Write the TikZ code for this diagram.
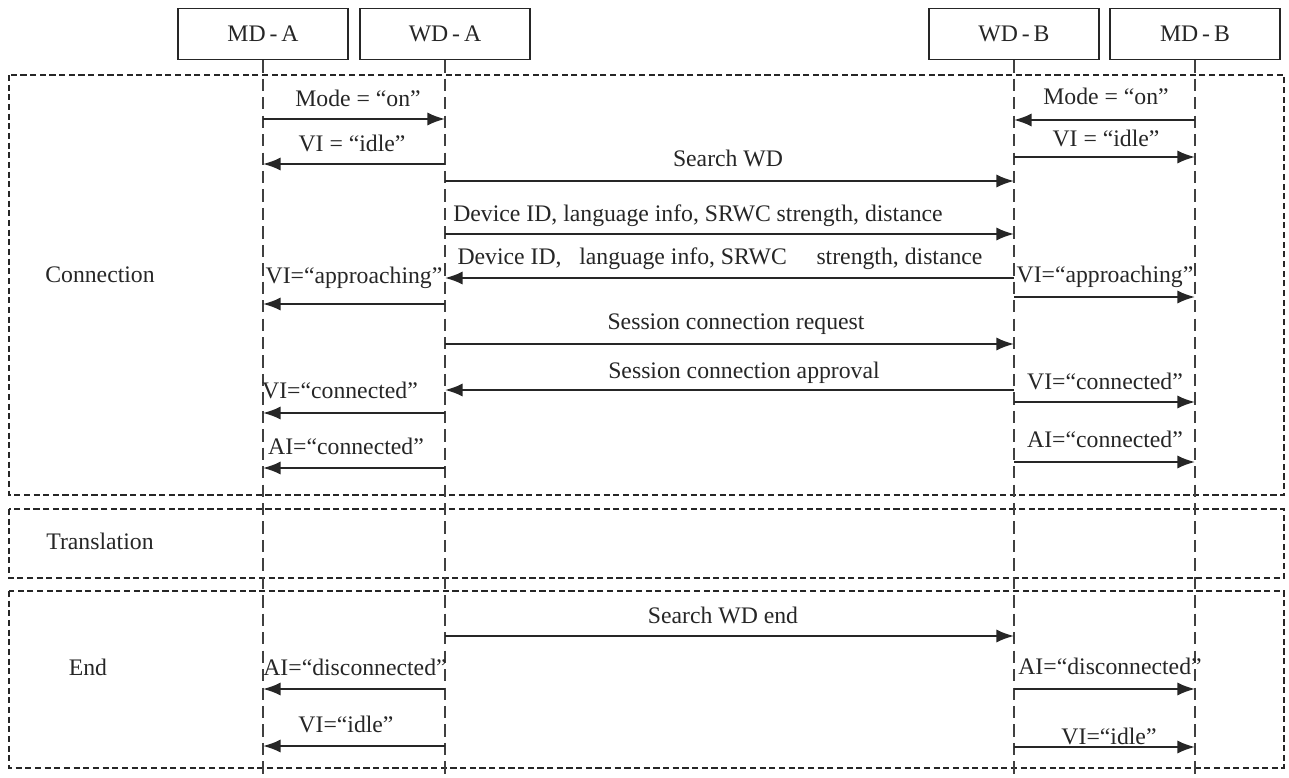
\documentclass[tikz,border=0pt]{standalone}
\usepackage{fontspec}
\setmainfont{Liberation Serif}
\usetikzlibrary{arrows.meta}
\begin{document}
\begin{tikzpicture}[x=0.02cm,y=-0.02cm,
  every node/.style={font=\fontsize{13.5}{15}\selectfont, text=black!85},
  actor/.style={draw=black!85, line width=0.9pt, minimum width=3.4cm, minimum height=1.02cm, inner sep=0pt, font=\fontsize{13.5}{15}\selectfont},
  life/.style={draw=black!75, line width=0.7pt, dash pattern=on 7pt off 3.5pt},
  frame/.style={draw=black!85, line width=0.9pt, dash pattern=on 3.5pt off 2pt},
  msg/.style={draw=black!85, line width=1.2pt, -{Latex[length=10pt,width=7.5pt]}},
  lbl/.style={inner sep=0pt, anchor=base}]
\useasboundingbox (0,0) rectangle (1289,778);
% actors
\node[actor] (mda) at (263,34) {MD\,-\,A};
\node[actor] (wda) at (445,34) {WD\,-\,A};
\node[actor] (wdb) at (1014,34) {WD\,-\,B};
\node[actor] (mdb) at (1195,34) {MD\,-\,B};
% lifeline ends
\coordinate (mdaE) at (263,778);
\coordinate (wdaE) at (445,778);
\coordinate (wdbE) at (1014,778);
\coordinate (mdbE) at (1195,778);
% frames
\draw[frame] (9,75) rectangle (1284,495);
\draw[frame] (9,509) rectangle (1284,578);
\draw[frame] (9,591) rectangle (1284,768);
\draw[life] (mda.south) -- (mdaE);
\draw[life] (wda.south) -- (wdaE);
\draw[life] (wdb.south) -- (wdbE);
\draw[life] (mdb.south) -- (mdbE);
% phase labels
\node[lbl] (tcon) at (100,282) {Connection};
\node[lbl] (ttra) at (100,549) {Translation};
\node[lbl] (tend) at (88,675) {End};
% messages: coordinates on lifelines
\foreach \n/\y in {1/119,3/164,8/304,12/413,14/468,17/689,19/746}{
  \coordinate (A\n) at (263,\y); \coordinate (B\n) at (445,\y);}
\foreach \n/\y in {2/120,4/157,9/297,13/402,15/462,18/689,20/747}{
  \coordinate (C\n) at (1014,\y); \coordinate (D\n) at (1195,\y);}
\foreach \n/\y in {5/181,6/234,7/278,10/344,11/390,16/636}{
  \coordinate (B\n) at (445,\y); \coordinate (C\n) at (1014,\y);}
% arrows
\draw[msg] (A1) -- (B1);
\draw[msg] (D2) -- (C2);
\draw[msg] (B3) -- (A3);
\draw[msg] (C4) -- (D4);
\draw[msg] (B5) -- (C5);
\draw[msg] (B6) -- (C6);
\draw[msg] (C7) -- (B7);
\draw[msg] (B8) -- (A8);
\draw[msg] (C9) -- (D9);
\draw[msg] (B10) -- (C10);
\draw[msg] (C11) -- (B11);
\draw[msg] (B12) -- (A12);
\draw[msg] (C13) -- (D13);
\draw[msg] (B14) -- (A14);
\draw[msg] (C15) -- (D15);
\draw[msg] (B16) -- (C16);
\draw[msg] (B17) -- (A17);
\draw[msg] (C18) -- (D18);
\draw[msg] (B19) -- (A19);
\draw[msg] (C20) -- (D20);
% labels
\node[lbl] (l1) at (358,106) {Mode = “on”};
\node[lbl] (l2) at (1106,104) {Mode = “on”};
\node[lbl] (l3) at (352,151) {VI = “idle”};
\node[lbl] (l4) at (1106,146) {VI = “idle”};
\node[lbl] (l5) at (728,166) {Search WD};
\node[lbl] (l6) at (698,221) {Device ID, language info, SRWC strength, distance};
\node[lbl] (l7) at (720,264) {Device ID,\ \ \ language info, SRWC\ \ \ \ \ strength, distance};
\node[lbl] (l8) at (354,283) {VI=“approaching”};
\node[lbl] (l9) at (1105,282) {VI=“approaching”};
\node[lbl] (l10) at (736,329) {Session connection request};
\node[lbl] (l11) at (744,378) {Session connection approval};
\node[lbl] (l12) at (340,398) {VI=“connected”};
\node[lbl] (l13) at (1105,389) {VI=“connected”};
\node[lbl] (l14) at (346,454) {AI=“connected”};
\node[lbl] (l15) at (1105,447) {AI=“connected”};
\node[lbl] (l16) at (723,623) {Search WD end};
\node[lbl] (l17) at (355,675) {AI=“disconnected”};
\node[lbl] (l18) at (1110,674) {AI=“disconnected”};
\node[lbl] (l19) at (346,732) {VI=“idle”};
\node[lbl] (l20) at (1109,744) {VI=“idle”};
\end{tikzpicture}
\end{document}
